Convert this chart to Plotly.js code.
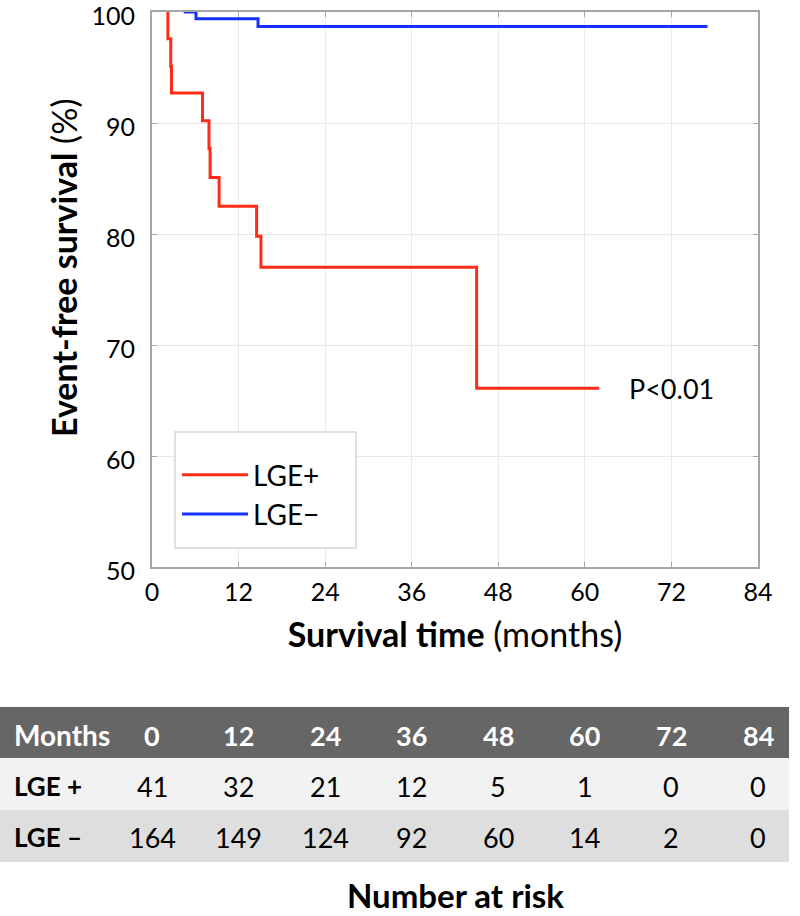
<!DOCTYPE html>
<html>
<head>
<meta charset="utf-8">
<script src="https://cdn.plot.ly/plotly-3.0.1.min.js"></script>
<style>html,body{margin:0;padding:0;background:#fff;}#chart{width:800px;height:916px;}</style>
</head>
<body>
<div id="chart"></div>
<script>
// ---- data ----
const lgePlusTime = [2.2, 2.2, 2.6, 2.7, 7.0, 7.9, 8.05, 9.3, 14.5, 15.1, 45.0, 62.0];
const lgePlusSurv = [100, 97.6, 95.1, 92.7, 90.2, 87.7, 85.1, 82.5, 79.8, 77.0, 66.1, 66.1];
const lgeMinusTime = [4.4, 6.1, 14.7, 77.0];
const lgeMinusSurv = [100, 99.4, 98.7, 98.7];
const riskMonths = [0, 12, 24, 36, 48, 60, 72, 84];
const riskPlus = [41, 32, 21, 12, 5, 1, 0, 0];
const riskMinus = [164, 149, 124, 92, 60, 14, 2, 0];
const seriesNames = ["LGE+", "LGE\u2212"];
const rowLabels = ["LGE +", "LGE \u2013"];
const pValueText = "P<0.01";

// ---- layout helpers (pixel -> paper) ----
const W = 800, H = 916, mL = 152, mR = 42, mT = 12, mB = 349;
const pw = W - mL - mR, ph = H - mT - mB;
const px = v => (v - mL) / pw;
const py = v => (H - mB - v) / ph;
const FONT = "Lato, 'Open Sans', sans-serif";

const traces = [
  {x: lgePlusTime, y: lgePlusSurv, type: 'scatter', mode: 'lines', name: seriesNames[0], legendgroup: 'a',
   line: {color: '#ff2b17', width: 3, shape: 'hv'}},
  {x: lgeMinusTime, y: lgeMinusSurv, type: 'scatter', mode: 'lines', name: seriesNames[1], legendgroup: 'b',
   line: {color: '#1530ff', width: 3, shape: 'hv'}}
];

const shapes = [
  {type: 'rect', xref: 'paper', yref: 'paper', x0: px(0), x1: px(789), y0: py(758), y1: py(707), fillcolor: '#666666', line: {width: 0}, layer: 'below'},
  {type: 'rect', xref: 'paper', yref: 'paper', x0: px(0), x1: px(789), y0: py(810), y1: py(758), fillcolor: '#f2f2f2', line: {width: 0}, layer: 'below'},
  {type: 'rect', xref: 'paper', yref: 'paper', x0: px(0), x1: px(789), y0: py(862), y1: py(810), fillcolor: '#dedede', line: {width: 0}, layer: 'below'},
  // legend box
  {type: 'rect', xref: 'paper', yref: 'paper', x0: px(175), x1: px(356), y0: py(548), y1: py(432), fillcolor: '#ffffff', line: {color: '#d6d6d6', width: 1.5}, layer: 'above'}
];

const annotations = [];
const rowY = [735, 786, 837];
annotations.push({xref: 'paper', yref: 'paper', x: px(12), y: py(rowY[0]), xanchor: 'left', yanchor: 'middle', showarrow: false,
  text: '<b>Months</b>', font: {family: FONT, size: 28, color: '#ffffff'}});
annotations.push({xref: 'paper', yref: 'paper', x: px(12), y: py(rowY[1]), xanchor: 'left', yanchor: 'middle', showarrow: false,
  text: '<b>' + rowLabels[0] + '</b>', font: {family: FONT, size: 26, color: '#000'}});
annotations.push({xref: 'paper', yref: 'paper', x: px(12), y: py(rowY[2]), xanchor: 'left', yanchor: 'middle', showarrow: false,
  text: '<b>' + rowLabels[1] + '</b>', font: {family: FONT, size: 26, color: '#000'}});
riskMonths.forEach((m, i) => {
  annotations.push({xref: 'x', yref: 'paper', x: m, y: py(rowY[0]), xanchor: 'center', yanchor: 'middle', showarrow: false,
    text: '<b>' + m + '</b>', font: {family: FONT, size: 27, color: '#ffffff'}});
  annotations.push({xref: 'x', yref: 'paper', x: m, y: py(rowY[1]), xanchor: 'center', yanchor: 'middle', showarrow: false,
    text: String(riskPlus[i]), font: {family: FONT, size: 27, color: '#000'}});
  annotations.push({xref: 'x', yref: 'paper', x: m, y: py(rowY[2]), xanchor: 'center', yanchor: 'middle', showarrow: false,
    text: String(riskMinus[i]), font: {family: FONT, size: 27, color: '#000'}});
});
annotations.push({xref: 'paper', yref: 'paper', x: px(455), y: py(895), xanchor: 'center', yanchor: 'middle', showarrow: false,
  text: '<b>Number at risk</b>', font: {family: FONT, size: 33, color: '#000'}});
annotations.push({xref: 'paper', yref: 'paper', x: px(627), y: py(388), xanchor: 'left', yanchor: 'middle', showarrow: false,
  text: pValueText, font: {family: FONT, size: 27, color: '#000'}});
// y-axis title
annotations.push({xref: 'paper', yref: 'paper', x: px(63), y: py(268), xanchor: 'center', yanchor: 'middle', showarrow: false,
  textangle: -90, text: '<b>Event-free survival</b> (%)', font: {family: FONT, size: 34, color: '#000'}});

const axisCommon = {
  showline: true, mirror: 'ticks', linecolor: '#a6a6a6', linewidth: 2,
  ticks: 'inside', ticklen: 5, tickcolor: '#a6a6a6', tickwidth: 1,
  showgrid: true, gridcolor: '#e9e9e9', gridwidth: 1, zeroline: false,
  ticklabeloverflow: 'allow',
  tickfont: {family: FONT, size: 25, color: '#000'}
};

const layout = {
  width: W, height: H,
  margin: {l: mL, r: mR, t: mT, b: mB},
  paper_bgcolor: '#fff', plot_bgcolor: '#fff',
  font: {family: FONT, color: '#000'},
  xaxis: Object.assign({}, axisCommon, {range: [0, 84], dtick: 12, tick0: 0, ticklabelstandoff: 2,
    title: {text: '<b>Survival time</b> (months)', font: {family: FONT, size: 34, color: '#000'}, standoff: 18}}),
  yaxis: Object.assign({}, axisCommon, {range: [50, 100], dtick: 10, tick0: 50, ticklabelstandoff: 10, ticklabelshift: 4}),
  showlegend: true,
  legend: {x: px(177), y: py(450), xanchor: 'left', yanchor: 'top', bgcolor: 'rgba(0,0,0,0)',
    borderwidth: 0, font: {family: FONT, size: 28, color: '#000'}, itemwidth: 66,
    tracegroupgap: 0},
  shapes: shapes,
  annotations: annotations
};

Plotly.newPlot('chart', traces, layout, {displayModeBar: false, staticPlot: true});
</script>
</body>
</html>
